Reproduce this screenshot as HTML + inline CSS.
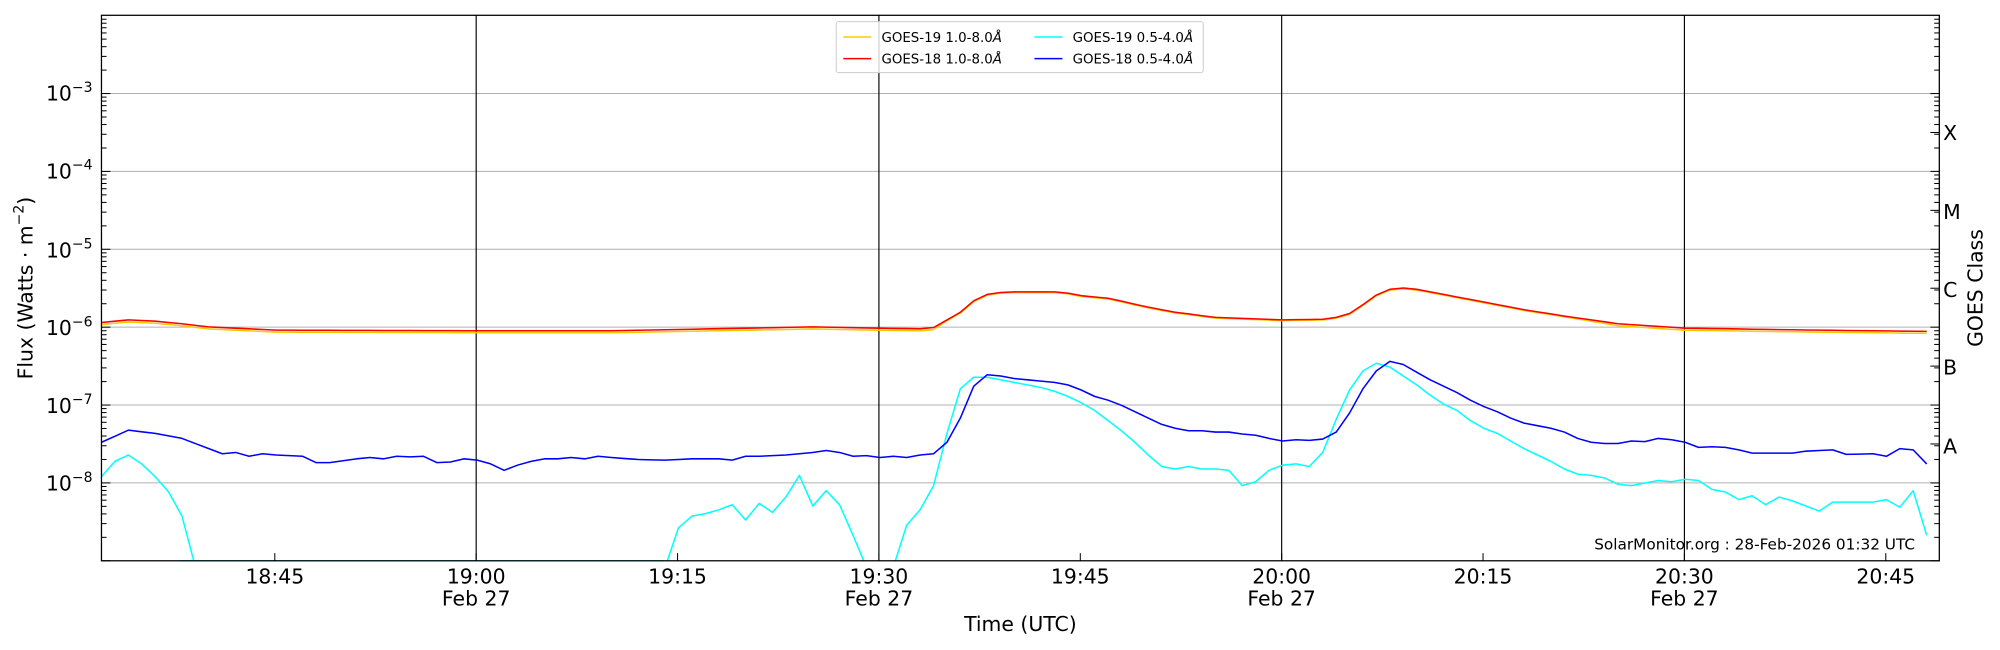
<!DOCTYPE html>
<html><head><meta charset="utf-8"><style>
html,body{margin:0;padding:0;background:#fff;}
svg{display:block;}
text{font-family:"DejaVu Sans","Liberation Sans",sans-serif;fill:#000;}
</style></head><body>
<svg id="s" width="2000" height="650" viewBox="0 0 1568 510" xmlns="http://www.w3.org/2000/svg">
<defs><clipPath id="c"><rect x="79" y="12" width="1442" height="428.6"/></clipPath></defs>
<rect x="0" y="0" width="1568" height="510" fill="#fff"/>
<g id="grid" stroke="#b0b0b0" stroke-width="0.8"></g>
<g stroke="#000" stroke-width="0.9">
<line x1="373" y1="12" x2="373" y2="440"/><line x1="689" y1="12" x2="689" y2="440"/>
<line x1="1005" y1="12" x2="1005" y2="440"/><line x1="1321" y1="12" x2="1321" y2="440"/>
</g>
<g id="data" clip-path="url(#c)" fill="none" stroke-width="1.2" stroke-linejoin="round"></g>
<g id="ticks" stroke="#000" stroke-width="0.8"></g>
<rect x="79" y="12" width="1442" height="428" fill="none" stroke="#000" stroke-width="1"/>
<g font-size="16" text-anchor="end">
<text x="72" y="79">10<tspan font-size="11" dy="-7">−3</tspan></text>
<text x="72" y="140">10<tspan font-size="11" dy="-7">−4</tspan></text>
<text x="72" y="202">10<tspan font-size="11" dy="-7">−5</tspan></text>
<text x="72" y="263">10<tspan font-size="11" dy="-7">−6</tspan></text>
<text x="72" y="324">10<tspan font-size="11" dy="-7">−7</tspan></text>
<text x="72" y="385">10<tspan font-size="11" dy="-7">−8</tspan></text>
</g>
<g font-size="16" text-anchor="start">
<text x="1524" y="110">X</text><text x="1524" y="172">M</text><text x="1524" y="233">C</text>
<text x="1524" y="294">B</text><text x="1524" y="356">A</text>
</g>
<text font-size="16" text-anchor="middle" transform="translate(1555,226) rotate(-90)">GOES Class</text>
<text font-size="16" text-anchor="middle" transform="translate(25,226) rotate(-90)">Flux (Watts · m<tspan font-size="11" dy="-7">−2</tspan><tspan dy="7">)</tspan></text>
<g font-size="16" text-anchor="middle">
<text x="215" y="458">18:45</text>
<text x="373" y="458">19:00</text><text x="373" y="475">Feb 27</text>
<text x="531" y="458">19:15</text>
<text x="689" y="458">19:30</text><text x="689" y="475">Feb 27</text>
<text x="847" y="458">19:45</text>
<text x="1005" y="458">20:00</text><text x="1005" y="475">Feb 27</text>
<text x="1163" y="458">20:15</text>
<text x="1321" y="458">20:30</text><text x="1321" y="475">Feb 27</text>
<text x="1479" y="458">20:45</text>
<text x="800" y="495">Time (UTC)</text>
</g>
<text x="1502" y="431" font-size="12" text-anchor="end">SolarMonitor.org : 28-Feb-2026 01:32 UTC</text>
<rect x="655.5" y="17" width="288" height="40" rx="2" fill="#fff" fill-opacity="0.8" stroke="#ccc" stroke-width="0.8"/>
<g stroke-width="1.2">
<line x1="661" y1="29" x2="683" y2="29" stroke="#ffcc00"/>
<line x1="661" y1="46" x2="683" y2="46" stroke="#ff0000"/>
<line x1="811" y1="29" x2="833" y2="29" stroke="#00ffff"/>
<line x1="811" y1="46" x2="833" y2="46" stroke="#0000ff"/>
</g>
<g font-size="10.5">
<text x="691" y="33">GOES-19 1.0-8.0<tspan font-style="italic">Å</tspan></text>
<text x="691" y="50">GOES-18 1.0-8.0<tspan font-style="italic">Å</tspan></text>
<text x="841" y="33">GOES-19 0.5-4.0<tspan font-style="italic">Å</tspan></text>
<text x="841" y="50">GOES-18 0.5-4.0<tspan font-style="italic">Å</tspan></text>
</g>
</svg>
<script>
var NS="http://www.w3.org/2000/svg";
function el(p,n,a){var e=document.createElementNS(NS,n);for(var k in a)e.setAttribute(k,a[k]);p.appendChild(e);return e;}
var grid=document.getElementById("grid"),ticks=document.getElementById("ticks"),data=document.getElementById("data");
function Y(l){return 440-(l+9)*61.1;}
for(var d=-8;d<=-3;d++){el(grid,"line",{x1:79,x2:1521,y1:Y(d),y2:Y(d)});}
for(var d=-9;d<-2;d++){for(var m=1;m<=9;m++){var y=Y(d+Math.log10(m));if(y<12||y>440)continue;var L=(m==1)?7:4;
el(ticks,"line",{x1:79,x2:79+L,y1:y,y2:y});el(ticks,"line",{x1:1521,x2:1521-L,y1:y,y2:y});}}
[-3.5,-4.5,-5.5,-6.5,-7.5].forEach(function(l){el(ticks,"line",{x1:1521,x2:1514,y1:Y(l),y2:Y(l)});});
[215,373,531,689,847,1005,1163,1321,1479].forEach(function(x){el(ticks,"line",{x1:x,x2:x,y1:440,y2:434});});
function series(pts){var out=[];for(var i=0;i<pts.length;i+=2){out.push([pts[i],pts[i+1]]);}
 var res=[];for(var m=0;m<=136;m++){var j=0;while(j<out.length-1&&out[j+1][0]<m)j++;var a=out[j],b=out[Math.min(j+1,out.length-1)];var t=(b[0]==a[0])?0:(m-a[0])/(b[0]-a[0]);if(t<0)t=0;if(t>1)t=1;res.push((79+10.53*m).toFixed(1)+","+(a[1]+(b[1]-a[1])*t).toFixed(1));}
 return res.join(" ");}
var red=[0,253,2,251,4,252,6,254,8,256.5,13,259,28,259.5,38,259.5,43,258.5,48,257.5,53,256.5,58,257.5,61,258,62,257,63,251,64,245,65,236,66,231,67,229.5,68,229,71,229,72,230,73,232,75,234,78,241,80,245,83,249,88,251,91,250.5,92,249,93,246,94,239,95,231.5,96,227,97,226,98,227,100,231,103,237,106,243,109,248,113,254,118,257.5,128,259,136,260];
var yel=red.slice();for(var i=0;i<yel.length;i+=2){var m=yel[i];if(!(m>=63&&m<=110))yel[i+1]+=1.6;else yel[i+1]+=0.6;}
var blue=[0,347,2,337.5,4,340,6,344,8,352,9,356,10,355,11,358,12,356,13,357,15,358,16,363,17,363,19,360,20,359,21,360,22,358,23,358.5,24,358,25,363,26,362.5,27,360,28,361,29,364,30,369,31,365,32,362,33,360,34,360,35,359,36,360,37,358,38,359,40,360.5,42,361,44,360,46,360,47,361,48,358,49,358,51,357,53,355,54,353.5,55,355,56,358,57,357.5,58,359,59,358,60,359,61,357,62,356,63,347,64,328,65,303,66,294,67,295,68,297,69,298,70,299,71,300,72,302,73,306,74,311,75,314,76,318,77,323,78,328,79,333,80,336,81,338,82,338,83,339,84,339,85,340.5,86,341.5,87,344,88,346,89,345,90,345.5,91,344.5,92,339,93,324,94,305,95,291,96,283.5,97,286,98,292,99,298,100,303,101,308,102,314,103,319,104,323,105,328,106,332,107,334,108,336,109,339,110,344,111,347,112,348,113,348,114,346,115,346.5,116,344,117,345,118,347,119,351,120,350.5,121,351,122,353,123,355.5,126,355.5,127,354,128,353.5,129,353,130,356.5,132,356,133,358,134,352,135,353,135.5,361,136,364];
var cyan=[0,374,1,362,2,357,3,364,4,374,5,386,6,405,7,445,42,445,43,414,44,405,45,403,46,400,47,396,48,408,49,395,50,402,51,390,52,373,53,397,54,385,55,396,56,420,57,445,59,445,60,412,61,400,62,381,63,340,64,305,65,296,66,296,67,298,68,300,69,302,70,304,71,307,72,311,73,316,74,322,75,330,76,338,77,347,78,357,79,366,80,368,81,366,82,368,83,368,84,369,85,381,86,378,87,369,88,365,89,364,90,366,91,355,92,329,93,306,94,291,95,285,96,288,97,295,98,302,99,310,100,317,101,322,102,330,103,336,104,340,105,346,106,352,107,357,108,362,109,368,110,372,111,373,112,375,113,380,114,381,115,379,116,377,117,378,118,376,119,377,120,384,121,386,122,392,123,389,124,396,125,390,126,393,127,397,128,401,129,394,132,394,133,392,134,398,135,385,136,420];
el(data,"polyline",{points:series(cyan),stroke:"#00ffff"});
el(data,"polyline",{points:series(blue),stroke:"#0000ff"});
el(data,"polyline",{points:series(yel),stroke:"#ffcc00"});
el(data,"polyline",{points:series(red),stroke:"#ff0000"});
el(data,"line",{x1:140,x2:520,y1:440,y2:440,stroke:"#00ffff","stroke-width":1});
</script>
</body></html>
